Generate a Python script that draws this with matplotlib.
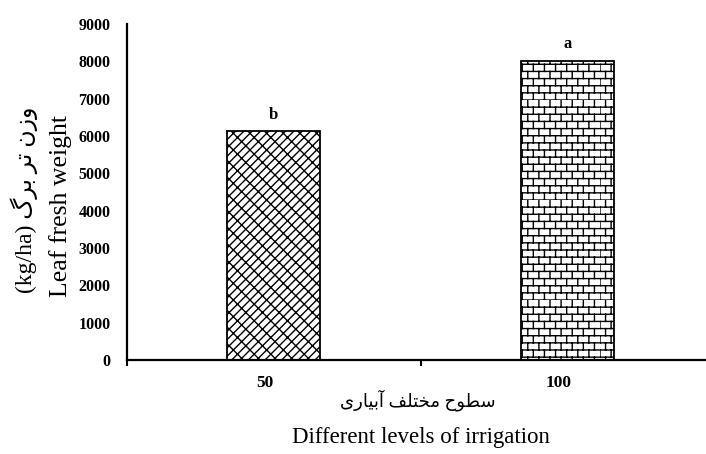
import numpy as np
import matplotlib
matplotlib.use("Agg")
import matplotlib.pyplot as plt
from matplotlib import hatch as mhatch
from matplotlib.path import Path

# ---- data ----
categories = ["50", "100"]
values = [6130, 8020]
letters = ["b", "a"]
yticks = [0, 1000, 2000, 3000, 4000, 5000, 6000, 7000, 8000, 9000]

# Persian labels (presentation forms, visual order)
fa_ylabel = "\uFB92\uFEAE\uFE91 \uFEAE\uFE97 \uFEE5\uFEAF\uFEED"
fa_xlabel = ("\uFBFC\uFEAD\uFE8E\uFBFF\uFE91\uFE81 "
             "\uFED2\uFEE0\uFE98\uFEA8\uFEE3 \uFEA1\uFEEE\uFEC4\uFEB3")


# ---- custom horizontal brick hatch (replaces '-' hatch) ----
class BrickHatch(mhatch.HatchPatternBase):
    def __init__(self, hatch, density):
        n = hatch.count('-')
        self.rows = 14 * n
        self.cols = 9 * n
        if n == 0:
            self.num_vertices = 0
        else:
            self.num_vertices = self.rows * 2 + self.rows * self.cols * 2

    def set_vertices_and_codes(self, vertices, codes):
        R, C = self.rows, self.cols
        ys = np.arange(R) / R
        vertices[0:2 * R:2, 0] = 0.0
        vertices[0:2 * R:2, 1] = ys
        vertices[1:2 * R:2, 0] = 1.0
        vertices[1:2 * R:2, 1] = ys
        codes[0:2 * R:2] = Path.MOVETO
        codes[1:2 * R:2] = Path.LINETO
        k = 2 * R
        for r in range(R):
            off = 0.0 if r % 2 == 0 else 0.5 / C
            for c in range(C):
                x = c / C + off
                vertices[k, 0] = x
                vertices[k, 1] = ys[r]
                vertices[k + 1, 0] = x
                vertices[k + 1, 1] = ys[r] + 1.0 / R
                codes[k] = Path.MOVETO
                codes[k + 1] = Path.LINETO
                k += 2


mhatch._hatch_types = [BrickHatch if t is mhatch.HorizontalHatch else t
                       for t in mhatch._hatch_types]

plt.rcParams['font.family'] = ['Liberation Serif', 'DejaVu Sans']
plt.rcParams['hatch.linewidth'] = 1.0

fig = plt.figure(figsize=(7.06, 4.54), dpi=100)
ax = fig.add_axes([127 / 706, 94 / 454, 587 / 706, 336 / 454])

x = np.arange(len(categories))
hatches = ['////\\\\', '-']
for i in range(len(categories)):
    ax.bar(x[i], values[i], width=0.317, color='white', edgecolor='black',
           linewidth=1.3, hatch=hatches[i], zorder=2)
    ax.text(x[i], values[i] + 230, letters[i], ha='center', va='bottom',
            fontsize=12, fontweight='bold')

ax.set_xlim(-0.5, 1.5)
ax.set_ylim(0, 9000)
ax.set_yticks(yticks)
ax.set_yticklabels([str(v) for v in yticks], fontsize=11.5, fontweight='bold')
# tick labels sit slightly left of the bar centres in the original
ax.set_xticks(x - 0.03)
ax.set_xticklabels(categories, fontsize=12.5, fontweight='bold')
ax.set_xticks([-0.5, 0.5, 1.5], minor=True)
ax.tick_params(axis='x', which='major', length=0, pad=11)
ax.tick_params(axis='x', which='minor', length=4, width=1.5, direction='out')
ax.tick_params(axis='y', length=0, pad=12)

for s in ['top', 'right']:
    ax.spines[s].set_visible(False)
for s in ['left', 'bottom']:
    ax.spines[s].set_linewidth(1.6)

fig.text(418 / 706, 1 - 400 / 454, fa_xlabel, ha='center', va='center', fontsize=13)
fig.text(421 / 706, 1 - 437 / 454, "Different levels of irrigation",
         ha='center', va='center', fontsize=16.5)
fig.text(61 / 706, 1 - 206 / 454, "Leaf fresh weight", rotation=90,
         ha='center', va='center', fontsize=18.5)
fig.text(24 / 706, 1 - 200 / 454, "(kg/ha) " + fa_ylabel, rotation=90,
         ha='center', va='center', fontsize=17)

fig.savefig("out.png", dpi=100)
